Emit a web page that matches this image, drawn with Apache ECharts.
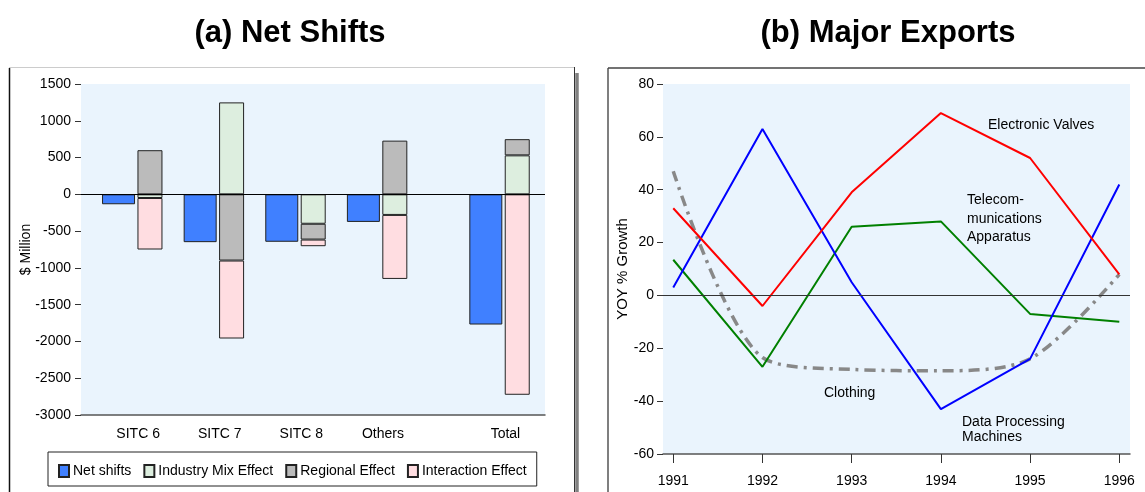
<!DOCTYPE html>
<html>
<head>
<meta charset="utf-8">
<script src="https://cdn.jsdelivr.net/npm/echarts@6/dist/echarts.min.js"></script>
<style>
html,body{margin:0;padding:0;background:#fff;}
#c{width:1145px;height:492px;}
</style>
</head>
<body>
<div id="c"></div>
<script>
// ---- Data: (a) Net Shifts ($ Million) ----
const shiftCats = ['SITC 6', 'SITC 7', 'SITC 8', 'Others', 'Total'];
const groupPos = [1, 2, 3, 4, 5.5];
const netShifts = [-135, -650, -645, -375, -1770];
const industryMix = [-50, 1250, -400, -280, 530];
const regional = [600, -900, -215, 730, 220];
const interaction = [-700, -1060, -90, -870, -2725];
const shiftTicks = { min: -3000, max: 1500, interval: 500 };

// ---- Data: (b) Major Exports (YOY % Growth) ----
const years = [1991, 1992, 1993, 1994, 1995, 1996];
const electronicValves = [33, -4, 39, 69, 52, 8];
const dataProcessing = [3, 63, 5, -43, -24, 42];
const telecom = [13.5, -27, 26, 28, -7, -10];
const clothing = [47, -23.5, -28, -28.5, -24, 8];
const growthTicks = { min: -60, max: 80, interval: 20 };

// ---- layout helpers ----
const FONT = '"Liberation Sans", Arial, sans-serif';
const netOff = -0.165, effOff = 0.22, labOff = 0.075;
const xMinA = 0.375, xMaxA = 6.06;
const labelPos = groupPos.map(p => p + labOff);
const pair = (arr, off) => arr.map((v, i) => [groupPos[i] + off, v]);
// value first, position second (encode swaps them) so that stacking happens on the value dimension
const pairSwap = (arr, off) => arr.map((v, i) => [v, groupPos[i] + off]);
const yr = arr => arr.map((v, i) => [years[i], v]);
const border = { borderColor: '#222', borderWidth: 1 };

const chart = echarts.init(document.getElementById('c'), null, { renderer: 'canvas' });

const opt = {
  animation: false,
  textStyle: { fontFamily: FONT },
  grid: [
    { left: 81, right: 600, top: 84, bottom: 77, show: true, backgroundColor: '#EAF4FD', borderWidth: 0 },
    { left: 663, right: 15, top: 84, bottom: 38, show: true, backgroundColor: '#EAF4FD', borderWidth: 0 }
  ],
  xAxis: [
    {
      type: 'value', gridIndex: 0, min: xMinA, max: xMaxA,
      splitLine: { show: false },
      axisLine: { show: true, onZero: false, lineStyle: { color: '#555', width: 1.5 } },
      axisTick: { show: false },
      axisLabel: {
        customValues: labelPos, margin: 12, color: '#000', fontSize: 14, fontFamily: FONT,
        formatter: v => {
          const i = labelPos.findIndex(p => Math.abs(p - v) < 0.01);
          return i >= 0 ? shiftCats[i] : '';
        }
      }
    },
    {
      type: 'value', gridIndex: 0, min: xMinA, max: xMaxA, show: false
    },
    {
      type: 'value', gridIndex: 1, min: 1990.885, max: 1996.12,
      splitLine: { show: false },
      axisLine: { show: true, onZero: false, lineStyle: { color: '#555', width: 1.5 } },
      axisTick: { show: true, customValues: years, length: 9, lineStyle: { color: '#333' } },
      axisLabel: { customValues: years, margin: 20, color: '#000', fontSize: 14, fontFamily: FONT,
        formatter: v => String(v) }
    }
  ],
  yAxis: [
    {
      type: 'value', gridIndex: 0, min: shiftTicks.min, max: shiftTicks.max, interval: shiftTicks.interval,
      splitLine: { show: false },
      axisLine: { show: false },
      axisTick: { show: true, length: 6, lineStyle: { color: '#333' } },
      axisLabel: { margin: 10, color: '#000', fontSize: 14, fontFamily: FONT, formatter: v => String(v) },
      name: '$ Million', nameLocation: 'middle', nameRotate: 90, nameGap: 48, nameMoveOverlap: false,
      nameTextStyle: { color: '#000', fontSize: 14, fontFamily: FONT }
    },
    {
      type: 'value', gridIndex: 1, min: growthTicks.min, max: growthTicks.max, interval: growthTicks.interval,
      splitLine: { show: false },
      axisLine: { show: false },
      axisTick: { show: true, length: 6, lineStyle: { color: '#333' } },
      axisLabel: { margin: 9, color: '#000', fontSize: 14, fontFamily: FONT, formatter: v => String(v) },
      name: 'YOY % Growth', nameLocation: 'middle', nameRotate: 90, nameGap: 33, nameMoveOverlap: false,
      nameTextStyle: { color: '#000', fontSize: 15, fontFamily: FONT }
    }
  ],
  legend: {
    data: ['Net shifts', 'Industry Mix Effect', 'Regional Effect', 'Interaction Effect'],
    left: 48, top: 452, padding: [12, 10, 8, 10], itemGap: 12,
    itemWidth: 10, itemHeight: 12, icon: 'rect',
    borderColor: '#222', borderWidth: 1,
    textStyle: { color: '#000', fontSize: 14, fontFamily: FONT, padding: [0, 0, 0, -1] }
  },
  series: [
    {
      name: 'Net shifts', type: 'bar', xAxisIndex: 0, yAxisIndex: 0, barWidth: 33,
      data: pair(netShifts, netOff),
      itemStyle: Object.assign({ color: '#4080FF' }, border),
      markLine: {
        silent: true, symbol: 'none', label: { show: false },
        lineStyle: { color: '#000', width: 1, type: 'solid' },
        data: [{ yAxis: 0 }]
      }
    },
    {
      name: 'Industry Mix Effect', type: 'bar', xAxisIndex: 1, yAxisIndex: 0, barWidth: 25, stack: 'eff',
      encode: { x: 1, y: 0 },
      data: pairSwap(industryMix, effOff),
      itemStyle: Object.assign({ color: '#DDEEDF' }, border)
    },
    {
      name: 'Regional Effect', type: 'bar', xAxisIndex: 1, yAxisIndex: 0, barWidth: 25, stack: 'eff',
      encode: { x: 1, y: 0 },
      data: pairSwap(regional, effOff),
      itemStyle: Object.assign({ color: '#BBBBBB' }, border)
    },
    {
      name: 'Interaction Effect', type: 'bar', xAxisIndex: 1, yAxisIndex: 0, barWidth: 25, stack: 'eff',
      encode: { x: 1, y: 0 },
      data: pairSwap(interaction, effOff),
      itemStyle: Object.assign({ color: '#FFDDE1' }, border)
    },
    {
      name: 'Clothing', type: 'line', xAxisIndex: 2, yAxisIndex: 1, symbol: 'none', smooth: 0.3,
      data: yr(clothing),
      lineStyle: { color: '#888888', width: 3.5, type: [11, 6, 3, 6] },
      markLine: {
        silent: true, symbol: 'none', label: { show: false },
        lineStyle: { color: '#333', width: 1, type: 'solid' },
        data: [{ yAxis: 0 }]
      }
    },
    {
      name: 'Telecommunications Apparatus', type: 'line', xAxisIndex: 2, yAxisIndex: 1, symbol: 'none',
      data: yr(telecom), lineStyle: { color: '#008000', width: 2 }
    },
    {
      name: 'Data Processing Machines', type: 'line', xAxisIndex: 2, yAxisIndex: 1, symbol: 'none',
      data: yr(dataProcessing), lineStyle: { color: '#0000FF', width: 2 }
    },
    {
      name: 'Electronic Valves', type: 'line', xAxisIndex: 2, yAxisIndex: 1, symbol: 'none',
      data: yr(electronicValves), lineStyle: { color: '#FF0000', width: 2 }
    }
  ],
  graphic: [
    { type: 'text', x: 290, y: 33, style: { text: '(a) Net Shifts', font: 'bold 31px ' + FONT, fill: '#000', align: 'center', verticalAlign: 'middle' } },
    { type: 'text', x: 888, y: 33, style: { text: '(b) Major Exports', font: 'bold 31px ' + FONT, fill: '#000', align: 'center', verticalAlign: 'middle' } },
    // panel frames
    { type: 'line', shape: { x1: 9.5, y1: 68, x2: 9.5, y2: 492 }, style: { stroke: '#111', lineWidth: 1.5 } },
    { type: 'line', shape: { x1: 9, y1: 67.5, x2: 575, y2: 67.5 }, style: { stroke: '#cccccc', lineWidth: 1 } },
    { type: 'line', shape: { x1: 574.5, y1: 67, x2: 574.5, y2: 492 }, style: { stroke: '#333', lineWidth: 1 } },
    { type: 'line', shape: { x1: 577, y1: 73, x2: 577, y2: 492 }, style: { stroke: '#808080', lineWidth: 3.5 } },
    { type: 'line', shape: { x1: 608, y1: 68, x2: 608, y2: 492 }, style: { stroke: '#555', lineWidth: 1.5 } },
    { type: 'line', shape: { x1: 608, y1: 68, x2: 1145, y2: 68 }, style: { stroke: '#444', lineWidth: 1.5 } },
    // annotations
    { type: 'text', x: 988, y: 125, style: { text: 'Electronic Valves', font: '14px ' + FONT, fill: '#000', align: 'left', verticalAlign: 'middle' } },
    { type: 'text', x: 967, y: 191, style: { text: 'Telecom-\nmunications\nApparatus', font: '14px ' + FONT, lineHeight: 18.5, fill: '#000', align: 'left', verticalAlign: 'top' } },
    { type: 'text', x: 824, y: 393, style: { text: 'Clothing', font: '14px ' + FONT, fill: '#000', align: 'left', verticalAlign: 'middle' } },
    { type: 'text', x: 962, y: 414, style: { text: 'Data Processing\nMachines', font: '14px ' + FONT, lineHeight: 15.5, fill: '#000', align: 'left', verticalAlign: 'top' } }
  ]
};
chart.setOption(opt);
</script>
</body>
</html>
